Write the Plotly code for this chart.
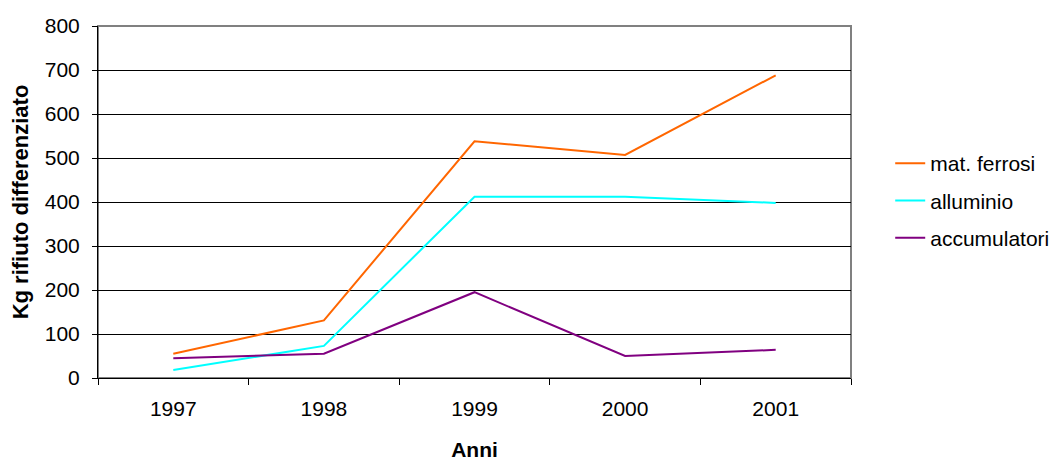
import plotly.graph_objects as go

anni = ["1997", "1998", "1999", "2000", "2001"]
mat_ferrosi = [55, 131, 538, 507, 688]
alluminio = [18, 73, 412, 412, 398]
accumulatori = [45, 55, 195, 50, 64]

series = [
    ("mat. ferrosi", mat_ferrosi, "#FF6600"),
    ("alluminio", alluminio, "#00FFFF"),
    ("accumulatori", accumulatori, "#800080"),
]

FONT = "Liberation Sans, Arial, sans-serif"

fig = go.Figure()
for i, (name, vals, col) in enumerate(series):
    fig.add_trace(go.Scatter(
        x=anni, y=vals, name=name, mode="lines",
        line=dict(color=col, width=2),
        legendgroup=f"g{i}",
    ))

fig.update_layout(
    width=1049, height=453,
    margin=dict(l=90, r=206, t=18, b=83),
    paper_bgcolor="white", plot_bgcolor="white",
    font=dict(family=FONT, size=21, color="black"),
    showlegend=True,
    legend=dict(
        xref="container", yref="container",
        x=0.841, y=0.575, xanchor="left", yanchor="middle",
        font=dict(family=FONT, size=21, color="black"),
        tracegroupgap=7,
        bgcolor="rgba(0,0,0,0)",
    ),
    shapes=[dict(type="rect", xref="paper", yref="paper", x0=0, x1=1, y0=0, y1=1,
                 line=dict(color="#808080", width=2), layer="below")],
)

fig.update_xaxes(
    type="category", range=[-0.5, 4.5], automargin=False,
    showline=True, linecolor="black", linewidth=1,
    ticks="outside", ticklen=6, tickcolor="black", tickson="boundaries",
    showgrid=False, zeroline=False,
    ticklabelstandoff=12,
    tickfont=dict(size=21),
    title=dict(text="<b>Anni</b>", font=dict(size=21), standoff=25),
)
fig.update_yaxes(
    range=[0, 800], tickvals=[0, 100, 200, 300, 400, 500, 600, 700, 800],
    automargin=False,
    showline=True, linecolor="black", linewidth=1,
    ticks="outside", ticklen=5, tickcolor="black",
    showgrid=True, gridcolor="black", gridwidth=1,
    zeroline=False,
    ticklabelstandoff=8,
    tickfont=dict(size=21),
    title=dict(text="<b>Kg rifiuto differenziato</b>", font=dict(size=22), standoff=10),
)

fig.write_html("out.html")
